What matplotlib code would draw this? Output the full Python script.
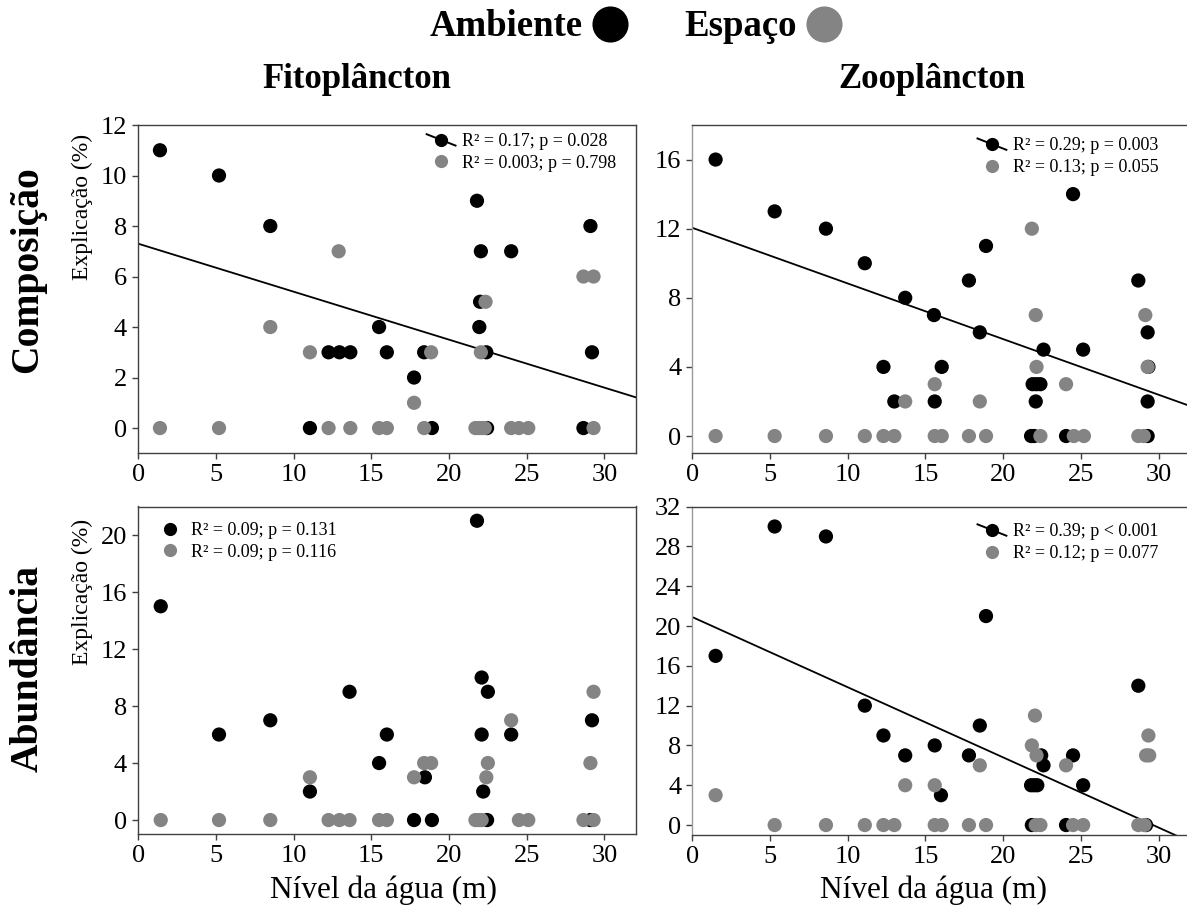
import matplotlib
matplotlib.use("Agg")
import matplotlib.pyplot as plt
import numpy as np
from matplotlib.lines import Line2D
from matplotlib.legend_handler import HandlerBase

plt.rcParams['font.family'] = ['Liberation Serif', 'DejaVu Serif']

# ---------------- data ----------------
# Fitoplâncton - Composição
fc_amb_x = [1.4, 5.2, 8.5, 11.05, 12.25, 12.95, 13.65, 15.5, 16.0, 17.75, 18.4, 18.9,
            21.8, 21.95, 22.0, 22.05, 22.4, 22.45, 24.0, 28.65, 29.1, 29.2]
fc_amb_y = [11, 10, 8, 0, 3, 3, 3, 4, 3, 2, 3, 0, 9, 4, 5, 7, 3, 0, 7, 0, 8, 3]
fc_esp_x = [1.4, 5.2, 8.5, 11.05, 12.25, 12.9, 13.65, 15.5, 16.0, 17.75, 18.4, 18.85,
            21.7, 21.9, 22.05, 22.1, 22.3, 22.35, 24.0, 24.5, 25.1, 28.65, 29.3, 29.3]
fc_esp_y = [0, 0, 4, 3, 0, 7, 0, 0, 0, 1, 0, 3, 0, 0, 3, 0, 0, 5, 0, 0, 0, 6, 6, 0]

# Zooplâncton - Composição
zc_amb_x = [1.5, 5.3, 8.6, 11.1, 12.3, 13.0, 13.7, 15.55, 15.6, 16.05, 17.8, 18.5, 18.9,
            21.8, 21.9, 22.0, 22.1, 22.15, 22.4, 22.6, 24.05, 24.5, 25.15, 28.7, 29.3,
            29.3, 29.35, 29.3]
zc_amb_y = [16, 13, 12, 10, 4, 2, 8, 7, 2, 4, 9, 6, 11,
            0, 3, 0, 2, 3, 3, 5, 0, 14, 5, 9, 6, 2, 4, 0]
zc_esp_x = [1.5, 5.3, 8.6, 11.1, 12.3, 13.0, 13.7, 15.6, 15.6, 16.05, 17.8, 18.5, 18.9,
            21.85, 22.1, 22.15, 22.4, 24.05, 24.55, 25.2, 28.7, 29.15, 29.3, 29.05]
zc_esp_y = [0, 0, 0, 0, 0, 0, 2, 3, 0, 0, 0, 2, 0,
            12, 7, 4, 0, 3, 0, 0, 0, 7, 4, 0]

# Fitoplâncton - Abundância
fa_amb_x = [1.45, 5.2, 8.5, 11.05, 13.6, 15.5, 16.0, 17.75, 18.45, 18.9,
            21.8, 22.1, 22.5, 22.1, 22.2, 22.45, 24.0, 29.2, 29.1]
fa_amb_y = [15, 6, 7, 2, 9, 4, 6, 0, 3, 0, 21, 10, 9, 6, 2, 0, 6, 7, 0]
fa_esp_x = [1.45, 5.2, 8.5, 11.05, 12.25, 12.95, 13.6, 15.5, 16.0, 17.75, 18.4, 18.85,
            21.7, 21.9, 22.1, 22.4, 22.5, 24.0, 24.5, 25.1, 28.65, 29.1, 29.3, 29.3]
fa_esp_y = [0, 0, 0, 3, 0, 0, 0, 0, 0, 3, 4, 4, 0, 0, 0, 3, 4, 7, 0, 0, 0, 4, 9, 0]

# Zooplâncton - Abundância
za_amb_x = [1.5, 5.3, 8.6, 11.1, 12.3, 13.7, 15.6, 16.0, 17.8, 18.5, 18.9,
            21.8, 22.0, 22.2, 22.45, 22.6, 21.85, 24.05, 24.5, 25.15, 28.7, 29.2]
za_amb_y = [17, 30, 29, 12, 9, 7, 8, 3, 7, 10, 21, 4, 4, 4, 7, 6, 0, 0, 7, 4, 14, 0]
za_esp_x = [1.5, 5.3, 8.6, 11.1, 12.3, 13.0, 13.7, 15.6, 15.6, 16.05, 17.8, 18.5, 18.9,
            21.85, 22.05, 22.15, 22.1, 22.4, 24.05, 24.5, 25.15, 28.7, 29.1, 29.2, 29.4, 29.35]
za_esp_y = [3, 0, 0, 0, 0, 0, 4, 4, 0, 0, 0, 6, 0,
            8, 11, 7, 0, 0, 6, 0, 0, 0, 0, 7, 7, 9]

# fitted lines (Ambiente): intercept, slope
fit_fc = [7.3, -0.19]
fit_zc = [12.05, -0.322]
fit_za = [20.9, -0.705]

# legend texts
leg_fc = ["R² = 0.17; p = 0.028", "R² = 0.003; p = 0.798"]
leg_zc = ["R² = 0.29; p = 0.003", "R² = 0.13; p = 0.055"]
leg_fa = ["R² = 0.09; p = 0.131", "R² = 0.09; p = 0.116"]
leg_za = ["R² = 0.39; p < 0.001", "R² = 0.12; p = 0.077"]

BLACK = '#000000'
GRAY = '#848484'
SPINE = '#404040'

W, H = 1187, 917
fig = plt.figure(figsize=(W / 100, H / 100), dpi=100)


def rect(l, r, t, b):
    return [l / W, 1 - b / H, (r - l) / W, (b - t) / H]


class SlantHandler(HandlerBase):
    def __init__(self, slant=True, **kw):
        super().__init__(**kw)
        self.slant = slant

    def create_artists(self, legend, orig_handle, xdescent, ydescent, width,
                       height, fontsize, trans):
        cx = width / 2 - xdescent
        cy = height / 2 - ydescent
        arts = []
        if self.slant:
            ln = Line2D([cx - 0.5 * width, cx + 0.5 * width],
                        [cy + 0.45 * height, cy - 0.45 * height],
                        color=BLACK, lw=1.4, transform=trans)
            arts.append(ln)
        mk = Line2D([cx], [cy], marker='o', ls='none',
                    ms=orig_handle.get_markersize(),
                    markerfacecolor=orig_handle.get_markerfacecolor(),
                    markeredgecolor='none', transform=trans)
        arts.append(mk)
        return arts


def panel(ax, ax_, ay, ex, ey, ylim, yticks, fit, labels, leg_anchor, gray_left=False):
    ax.scatter(ax_, ay, s=105, c=BLACK, edgecolors='none', zorder=3)
    ax.scatter(ex, ey, s=105, c=GRAY, edgecolors='none', zorder=4)
    if fit is not None:
        xs = np.array([0, 32])
        ax.plot(xs, fit[0] + fit[1] * xs, color=BLACK, lw=1.3, zorder=2)
    ax.set_xlim(0, 32)
    ax.set_ylim(*ylim)
    ax.set_xticks([0, 5, 10, 15, 20, 25, 30])
    ax.set_yticks(yticks)
    ax.tick_params(direction='out', length=4, width=1, color=SPINE,
                   labelsize=19, pad=4)
    for s in ax.spines.values():
        s.set_color(SPINE)
        s.set_linewidth(1)
    if gray_left:
        ax.spines['left'].set_color('#9a9a9a')
    h1 = Line2D([], [], marker='o', ms=9.5, markerfacecolor=BLACK, ls='none')
    h2 = Line2D([], [], marker='o', ms=9.5, markerfacecolor=GRAY, ls='none')
    ax.legend([h1, h2], labels, loc='upper left', bbox_to_anchor=leg_anchor,
              frameon=False, fontsize=13, borderpad=0, borderaxespad=0,
              handlelength=1.6, handletextpad=0.35, labelspacing=0.25,
              handler_map={h1: SlantHandler(slant=fit is not None),
                           h2: SlantHandler(slant=False)})
    return ax


axA = fig.add_axes(rect(138.2, 635.5, 125, 453.3))
axB = fig.add_axes(rect(692.3, 1189.6, 125, 453.3))
axC = fig.add_axes(rect(138.2, 635.5, 506.5, 834.3))
axD = fig.add_axes(rect(692.3, 1189.6, 506.6, 835))

panel(axA, fc_amb_x, fc_amb_y, fc_esp_x, fc_esp_y, (-1, 12), range(0, 13, 2),
      fit_fc, leg_fc, (0.58, 0.975))
panel(axB, zc_amb_x, zc_amb_y, zc_esp_x, zc_esp_y, (-1, 18), range(0, 17, 4),
      fit_zc, leg_zc, (0.5735, 0.962), gray_left=True)
panel(axC, fa_amb_x, fa_amb_y, fa_esp_x, fa_esp_y, (-1, 22), range(0, 21, 4),
      None, leg_fa, (0.035, 0.952))
panel(axD, za_amb_x, za_amb_y, za_esp_x, za_esp_y, (-1, 32), range(0, 33, 4),
      fit_za, leg_za, (0.5735, 0.949), gray_left=True)

# header legend
hA = Line2D([], [], marker='o', ms=26, markerfacecolor=BLACK, markeredgecolor='none', ls='none')
hE = Line2D([], [], marker='o', ms=26, markerfacecolor=GRAY, markeredgecolor='none', ls='none')
fig.legend([hA, hE], ['Ambiente', 'Espaço'], loc='center',
           bbox_to_anchor=(636 / W, 1 - 27 / H), ncol=2, markerfirst=False,
           frameon=False, prop={'weight': 'bold', 'size': 26.5},
           handlelength=1.0, handletextpad=0.25, columnspacing=1.5,
           borderpad=0)

# column titles
fig.text(357 / W, 1 - 80 / H, 'Fitoplâncton', ha='center', va='center',
         fontsize=25, fontweight='bold')
fig.text(932 / W, 1 - 80 / H, 'Zooplâncton', ha='center', va='center',
         fontsize=25, fontweight='bold')

# row titles
fig.text(28 / W, 1 - 270 / H, 'Composição', ha='center', va='center',
         rotation=90, fontsize=28.5, fontweight='bold')
fig.text(28 / W, 1 - 668 / H, 'Abundância', ha='center', va='center',
         rotation=90, fontsize=28.5, fontweight='bold')

# y labels
fig.text(82 / W, 1 - 207 / H, 'Explicação (%)', ha='center', va='center',
         rotation=90, fontsize=17)
fig.text(82 / W, 1 - 592 / H, 'Explicação (%)', ha='center', va='center',
         rotation=90, fontsize=17)

# x labels
fig.text(384 / W, 1 - 890 / H, 'Nível da água (m)', ha='center', va='center',
         fontsize=22.5)
fig.text(934 / W, 1 - 890 / H, 'Nível da água (m)', ha='center', va='center',
         fontsize=22.5)

fig.savefig('out.png', dpi=100)
